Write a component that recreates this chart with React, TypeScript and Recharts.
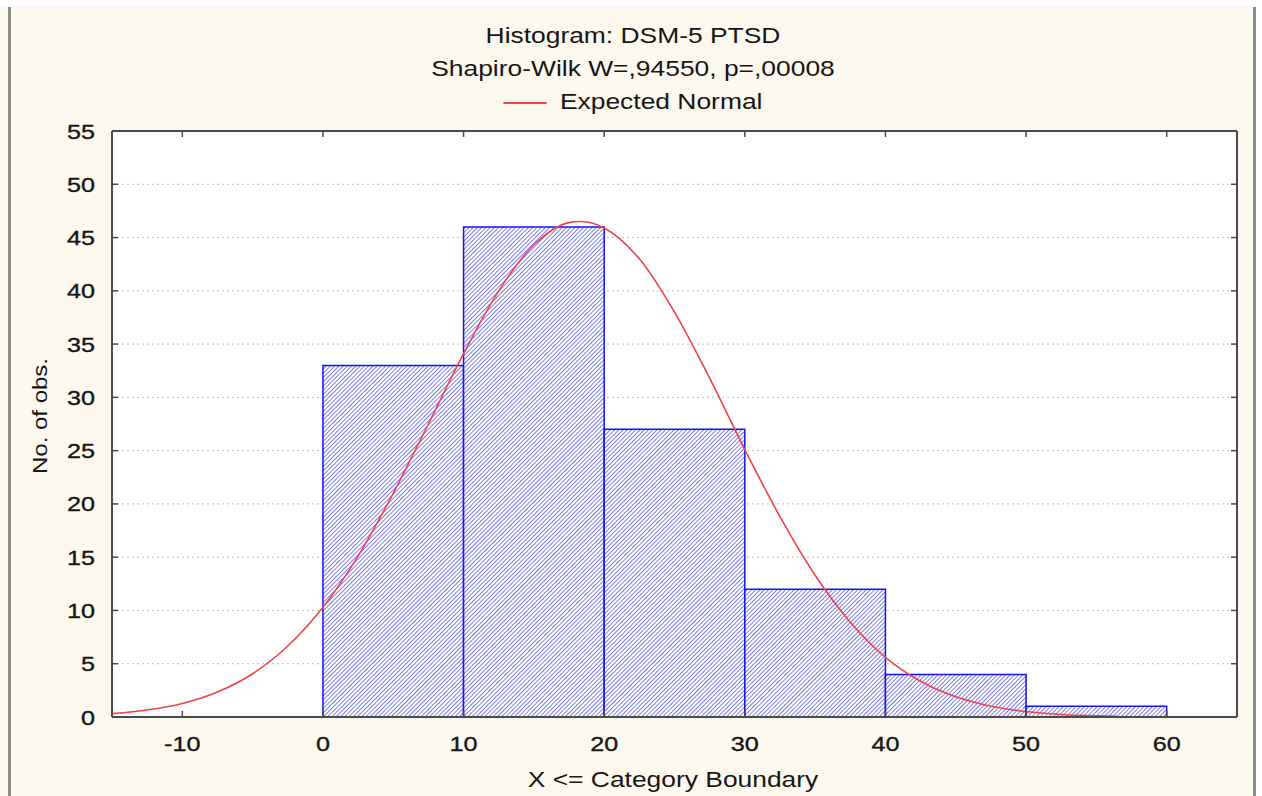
import {
  CartesianGrid,
  ComposedChart,
  Line,
  ReferenceArea,
  XAxis,
  YAxis,
} from "recharts";

// Histogram bins (X <= category boundary) and observed counts.
const binStart = [0, 10, 20, 30, 40, 50];
const binEnd = [10, 20, 30, 40, 50, 60];
const binCounts = [33, 46, 27, 12, 4, 1];

// Expected normal curve.
const curveX = [
  -15, -12.5, -10, -7.5, -5, -2.5, 0, 2.5, 5, 7.5, 10, 12.5, 15, 17.5, 18.3,
  20, 22.5, 25, 27.5, 30, 32.5, 35, 37.5, 40, 42.5, 45, 47.5, 50, 52.5, 55,
  56.5,
];
const curveY = [
  0.32, 0.66, 1.27, 2.34, 4.06, 6.66, 10.3, 15.1, 21.0, 27.5, 34.1, 40.0, 44.3,
  46.4, 46.5, 45.9, 43.0, 38.0, 31.8, 25.1, 18.8, 13.3, 8.9, 5.6, 3.35, 1.89,
  1.01, 0.51, 0.24, 0.11, 0.07,
];

const xTicks = [-10, 0, 10, 20, 30, 40, 50, 60];
const yTicks = [0, 5, 10, 15, 20, 25, 30, 35, 40, 45, 50, 55];

const curveData = curveX.map((x, i) => ({ x, y: curveY[i] }));

const FONT = '"Liberation Sans", Arial, sans-serif';
const STRETCH = 1.2; // the source render is horizontally stretched
const TICK_LEN = 6;
const AXIS = "#4a4a4a";
const INK = "#161616";
const BG = "#fcf8ee";

// Inside tick marks + labels, one renderer per side.
function LeftTick({ x, y, payload }: any) {
  return (
    <g>
      <line x1={x} x2={x + TICK_LEN} y1={y} y2={y} stroke={AXIS} strokeWidth={1.5} />
      <text
        transform={`translate(${x - 17},${y + 7.5}) scale(${STRETCH},1)`}
        textAnchor="end"
        fontSize={21}
        fontFamily={FONT}
        fill={INK}
        stroke={INK}
        strokeWidth={0.35}
      >
        {payload.value}
      </text>
    </g>
  );
}

function RightTick({ x, y }: any) {
  return <line x1={x - TICK_LEN} x2={x} y1={y} y2={y} stroke={AXIS} strokeWidth={1.5} />;
}

function BottomTick({ x, y, payload }: any) {
  return (
    <g>
      <line x1={x} x2={x} y1={y - TICK_LEN} y2={y} stroke={AXIS} strokeWidth={1.5} />
      <text
        transform={`translate(${x},${y + 34}) scale(${STRETCH},1)`}
        textAnchor="middle"
        fontSize={21}
        fontFamily={FONT}
        fill={INK}
        stroke={INK}
        strokeWidth={0.35}
      >
        {payload.value}
      </text>
    </g>
  );
}

function TopTick({ x, y }: any) {
  return <line x1={x} x2={x} y1={y} y2={y + TICK_LEN} stroke={AXIS} strokeWidth={1.5} />;
}

const centered = (top: number): React.CSSProperties => ({
  position: "absolute",
  left: 0,
  width: 1266,
  top,
  textAlign: "center",
  fontFamily: FONT,
  fontSize: 22,
  lineHeight: "26px",
  color: INK,
  transform: `scaleX(${STRETCH})`,
  transformOrigin: "633px 0",
  whiteSpace: "nowrap",
});

export default function App() {
  return (
    <div
      style={{
        position: "absolute",
        left: 0,
        top: 0,
        width: 1262,
        height: 796,
        background: BG,
        overflow: "hidden",
      }}
    >
      {/* window chrome */}
      <div style={{ position: "absolute", left: 0, top: 0, width: 1262, height: 7, background: "#fff" }} />
      <div style={{ position: "absolute", left: 8, top: 7, width: 3, height: 789, background: "#8a8a8a" }} />
      <div style={{ position: "absolute", left: 1253, top: 7, width: 3, height: 789, background: "#8a8a8a" }} />
      <div style={{ position: "absolute", left: 1256, top: 0, width: 6, height: 796, background: "#fff" }} />

      <div style={centered(23)}>Histogram: DSM-5 PTSD</div>
      <div style={centered(56)}>Shapiro-Wilk W=,94550, p=,00008</div>
      <div style={centered(89)}>
        <span
          style={{
            display: "inline-block",
            width: 36,
            height: 2,
            background: "#ee4448",
            verticalAlign: "middle",
            marginRight: 11,
          }}
        />
        Expected Normal
      </div>

      <div
        style={{
          position: "absolute",
          left: 0,
          width: 1346,
          top: 767,
          textAlign: "center",
          fontFamily: FONT,
          fontSize: 22,
          lineHeight: "26px",
          color: INK,
          transform: `scaleX(${STRETCH})`,
          transformOrigin: "673px 0",
          whiteSpace: "nowrap",
        }}
      >
        X &lt;= Category Boundary
      </div>
      <div
        style={{
          position: "absolute",
          left: 40,
          top: 416,
          fontFamily: FONT,
          fontSize: 20,
          color: INK,
          whiteSpace: "nowrap",
          transform: `translate(-50%, -50%) rotate(-90deg) scaleX(${STRETCH})`,
        }}
      >
        No. of obs.
      </div>

      <div style={{ position: "absolute", left: 0, top: 0 }}>
        <ComposedChart
          width={1262}
          height={796}
          data={curveData}
          margin={{ top: 130, right: 24, bottom: 19, left: 12 }}
        >
          <defs>
            <pattern
              id="hatch"
              width={3}
              height={3}
              patternUnits="userSpaceOnUse"
              patternTransform="rotate(45)"
            >
              <rect width={3} height={3} fill="#ffffff" />
              <line x1={0} y1={0} x2={0} y2={3} stroke="#4848e4" strokeWidth={1.4} />
            </pattern>
          </defs>
          <CartesianGrid
            xAxisId="bottom"
            yAxisId="left"
            vertical={false}
            fill="#ffffff"
            stroke="#bdbdbd"
            strokeDasharray="2 3"
          />
          <XAxis
            xAxisId="bottom"
            dataKey="x"
            type="number"
            domain={[-15, 65]}
            ticks={xTicks}
            interval={0}
            allowDataOverflow
            height={60}
            tickSize={0}
            tickMargin={0}
            tickLine={false}
            axisLine={{ stroke: AXIS, strokeWidth: 2 }}
            tick={BottomTick}
          />
          <XAxis
            xAxisId="top"
            orientation="top"
            dataKey="x"
            type="number"
            domain={[-15, 65]}
            ticks={xTicks}
            interval={0}
            allowDataOverflow
            height={1}
            tickSize={0}
            tickMargin={0}
            tickLine={false}
            axisLine={{ stroke: AXIS, strokeWidth: 2 }}
            tick={TopTick}
          />
          <YAxis
            yAxisId="left"
            type="number"
            domain={[0, 55]}
            ticks={yTicks}
            interval={0}
            allowDataOverflow
            width={100}
            tickSize={0}
            tickMargin={0}
            tickLine={false}
            axisLine={{ stroke: AXIS, strokeWidth: 2 }}
            tick={LeftTick}
          />
          <YAxis
            yAxisId="right"
            orientation="right"
            type="number"
            domain={[0, 55]}
            ticks={yTicks}
            interval={0}
            allowDataOverflow
            width={1}
            tickSize={0}
            tickMargin={0}
            tickLine={false}
            axisLine={{ stroke: AXIS, strokeWidth: 2 }}
            tick={RightTick}
          />
          {binCounts.map((count, i) => (
            <ReferenceArea
              key={i}
              xAxisId="bottom"
              yAxisId="left"
              x1={binStart[i]}
              x2={binEnd[i]}
              y1={0}
              y2={count}
              fill="url(#hatch)"
              fillOpacity={1}
              stroke="#1414f4"
              strokeWidth={1.5}
              ifOverflow="visible"
            />
          ))}
          <Line
            xAxisId="bottom"
            yAxisId="left"
            dataKey="y"
            type="monotone"
            stroke="#ee4448"
            strokeWidth={1.6}
            dot={false}
            isAnimationActive={false}
          />
        </ComposedChart>
      </div>
    </div>
  );
}
